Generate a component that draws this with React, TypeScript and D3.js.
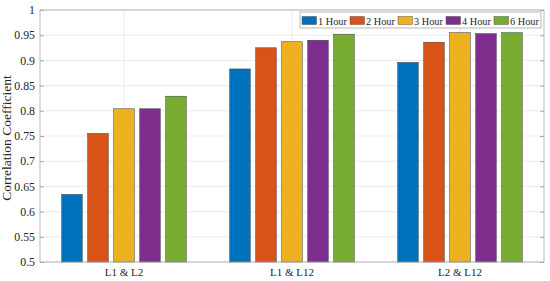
import { useRef, useEffect } from 'react';
import * as d3 from 'd3';

// categories and series
const pairs = ['L1 & L2', 'L1 & L12', 'L2 & L12'];
const horizons = ['1 Hour', '2 Hour', '3 Hour', '4 Hour', '6 Hour'];
const colors = ['#0072BD', '#D95319', '#EDB120', '#7E2F8E', '#77AC30'];

// one array per horizon, values per pair
const hour1 = [0.634, 0.883, 0.896];
const hour2 = [0.755, 0.925, 0.936];
const hour3 = [0.804, 0.937, 0.955];
const hour4 = [0.804, 0.940, 0.953];
const hour6 = [0.829, 0.952, 0.955];
const seriesValues = [hour1, hour2, hour3, hour4, hour6];

const yTicks = [0.5, 0.55, 0.6, 0.65, 0.7, 0.75, 0.8, 0.85, 0.9, 0.95, 1];

const font = "'Liberation Serif', 'Times New Roman', serif";

export default function App() {
  const ref = useRef<SVGSVGElement>(null);

  useEffect(() => {
    const width = 550;
    const height = 281;
    const marginLeft = 40;
    const marginRight = 6;
    const marginTop = 10;
    const marginBottom = 19;

    const svg = d3.select(ref.current)
      .attr('width', width)
      .attr('height', height)
      .style('font-family', font);
    svg.selectAll('*').remove();

    const x = d3.scaleBand()
      .domain(pairs)
      .range([marginLeft, width - marginRight])
      .padding(0);

    const inner = d3.scaleBand()
      .domain(horizons)
      .range([-65, 65])
      .paddingInner(0.21)
      .paddingOuter(0.105);

    const y = d3.scaleLinear()
      .domain([0.5, 1])
      .range([height - marginBottom, marginTop]);

    const plotW = width - marginLeft - marginRight;
    const plotH = height - marginTop - marginBottom;

    // grid
    svg.append('g')
      .selectAll('line')
      .data(yTicks)
      .join('line')
        .attr('x1', marginLeft).attr('x2', width - marginRight)
        .attr('y1', d => y(d)).attr('y2', d => y(d))
        .attr('stroke', '#ebebeb');
    svg.append('g')
      .selectAll('line')
      .data(pairs)
      .join('line')
        .attr('x1', d => x(d)! + x.bandwidth() / 2).attr('x2', d => x(d)! + x.bandwidth() / 2)
        .attr('y1', marginTop).attr('y2', height - marginBottom)
        .attr('stroke', '#ebebeb');

    // bars
    const rows = pairs.flatMap((p, i) => horizons.map((h, j) => ({ p, h, j, v: seriesValues[j][i] })));
    svg.append('g')
      .selectAll('rect')
      .data(rows)
      .join('rect')
        .attr('x', d => x(d.p)! + x.bandwidth() / 2 + inner(d.h)!)
        .attr('y', d => y(d.v))
        .attr('width', inner.bandwidth())
        .attr('height', d => y(0.5) - y(d.v))
        .attr('fill', d => colors[d.j])
        .attr('stroke', '#3a3a3a')
        .attr('stroke-width', 0.5);

    // box
    svg.append('rect')
      .attr('x', marginLeft).attr('y', marginTop)
      .attr('width', plotW).attr('height', plotH)
      .attr('fill', 'none')
      .attr('stroke', '#a8a8a8')
      .attr('stroke-width', 0.8);

    const styleText = (sel: any, size: number) => sel
      .attr('fill', '#262626')
      .style('font-family', font)
      .style('font-size', `${size}px`);

    // y axis
    svg.append('g')
      .attr('transform', `translate(${marginLeft},0)`)
      .call(d3.axisLeft(y).tickValues(yTicks).tickSize(-4).tickPadding(5).tickFormat(d => String(d)))
      .call(g => g.select('.domain').remove())
      .call(g => g.selectAll('.tick line').attr('stroke', '#a8a8a8'))
      .call(g => styleText(g.selectAll('.tick text'), 11.8));
    svg.append('g')
      .attr('transform', `translate(${width - marginRight},0)`)
      .call(d3.axisRight(y).tickValues(yTicks).tickSize(-4).tickFormat(() => ''))
      .call(g => g.select('.domain').remove())
      .call(g => g.selectAll('.tick line').attr('stroke', '#a8a8a8'));

    // x axis
    svg.append('g')
      .attr('transform', `translate(0,${height - marginBottom})`)
      .call(d3.axisBottom(x).tickSize(-4).tickPadding(6))
      .call(g => g.select('.domain').remove())
      .call(g => g.selectAll('.tick line').attr('stroke', '#a8a8a8'))
      .call(g => styleText(g.selectAll('.tick text'), 11));

    // y label
    svg.append('text')
      .attr('transform', `translate(11,${marginTop + plotH / 2 + 2}) rotate(-90)`)
      .attr('text-anchor', 'middle')
      .call(styleText, 13.5)
      .text('Correlation Coefficient');

    // legend
    const lg = svg.append('g').attr('transform', 'translate(300,12)');
    lg.append('rect')
      .attr('width', 241).attr('height', 16)
      .attr('fill', 'white')
      .attr('stroke', '#a8a8a8')
      .attr('stroke-width', 0.8);
    const item = lg.selectAll('g.item')
      .data(horizons)
      .join('g')
        .attr('class', 'item')
        .attr('transform', (d, i) => `translate(${2 + i * 48},0)`);
    item.append('rect')
      .attr('x', 0).attr('y', 4.5)
      .attr('width', 14.5).attr('height', 8)
      .attr('fill', (d, i) => colors[i])
      .attr('stroke', '#3a3a3a')
      .attr('stroke-width', 0.4);
    item.append('text')
      .attr('x', 16).attr('y', 12.5)
      .call(styleText, 10.3)
      .text(d => d);
  }, []);

  return (
    <div style={{ position: 'absolute', left: 0, top: 0 }}>
      <svg ref={ref}></svg>
    </div>
  );
}
